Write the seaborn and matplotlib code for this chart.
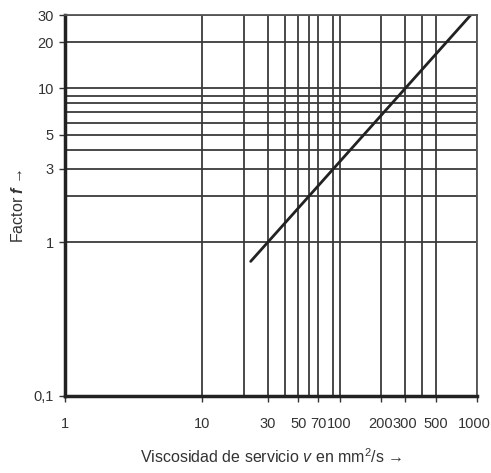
import matplotlib
matplotlib.use("Agg")
import matplotlib.pyplot as plt
import matplotlib.transforms as mtransforms
import seaborn as sns
import pandas as pd

# data
viscosity = [22.5, 900]
factor = [0.75, 30]

x_major = [1, 10, 30, 50, 70, 100, 200, 300, 500, 1000]
x_major_labels = ["1", "10", "30", "50", "70", "100", "200", "300", "500", "1000"]
x_minor = [20, 40, 60, 90, 400]
y_major = [0.1, 1, 3, 5, 10, 20, 30]
y_major_labels = ["0,1", "1", "3", "5", "10", "20", "30"]
y_minor = [2, 4, 6, 7, 8, 9]

sns.set_theme(style="white")
plt.rcParams["font.family"] = ["Liberation Sans", "DejaVu Sans"]
plt.rcParams["mathtext.fontset"] = "custom"
plt.rcParams["mathtext.it"] = "Liberation Sans:italic"
plt.rcParams["mathtext.bf"] = "Liberation Sans:bold"
plt.rcParams["mathtext.rm"] = "Liberation Sans"
has_bfit = "mathtext.bfit" in plt.rcParams
if has_bfit:
    plt.rcParams["mathtext.bfit"] = "Liberation Sans:italic:bold"
f_sym = r"$\mathbfit{f}$" if has_bfit else r"$\mathit{f}$"

fig = plt.figure(figsize=(4.91, 4.73), dpi=100)
ax = fig.add_axes([0.1324, 0.163, 0.839, 0.805])

df = pd.DataFrame({"v": viscosity, "f": factor})
sns.lineplot(data=df, x="v", y="f", ax=ax, color="#222222", linewidth=2.0)

ax.set_xscale("log")
ax.set_yscale("log")
ax.set_xlim(1, 1000)
ax.set_ylim(0.1, 30)

ax.set_xticks(x_major)
ax.set_xticklabels(x_major_labels)
ax.set_xticks(x_minor, minor=True)
ax.set_yticks(y_major)
ax.set_yticklabels(y_major_labels)
ax.set_yticks(y_minor, minor=True)

ax.grid(True, which="both", color="#3a3a3a", linewidth=1.3)
ax.set_axisbelow(True)

ax.tick_params(which="major", length=4, width=1, color="#333333",
               labelsize=10.5, labelcolor="#333333", pad=4, bottom=True, left=True)
ax.tick_params(which="minor", length=0)
ax.tick_params(axis="x", pad=11)

# nudge the last x tick label slightly left so it stays inside the figure
last = ax.get_xticklabels()[-1]
last.set_transform(last.get_transform() +
                   mtransforms.ScaledTranslation(-3 / 100, 0, fig.dpi_scale_trans))

for side in ["left", "bottom"]:
    ax.spines[side].set_linewidth(2.5)
    ax.spines[side].set_color("#222222")
for side in ["top", "right"]:
    ax.spines[side].set_linewidth(1.3)
    ax.spines[side].set_color("#555555")

ax.set_xlabel(r"Viscosidad de servicio $\mathit{v}$ en mm$^2$/s →", fontsize=11.5,
              color="#333333", labelpad=12)
ax.set_ylabel("Factor " + f_sym + " →", fontsize=11.5, color="#333333")
ax.yaxis.set_label_coords(-0.095, 0.50)

fig.savefig("out.png", dpi=100)
